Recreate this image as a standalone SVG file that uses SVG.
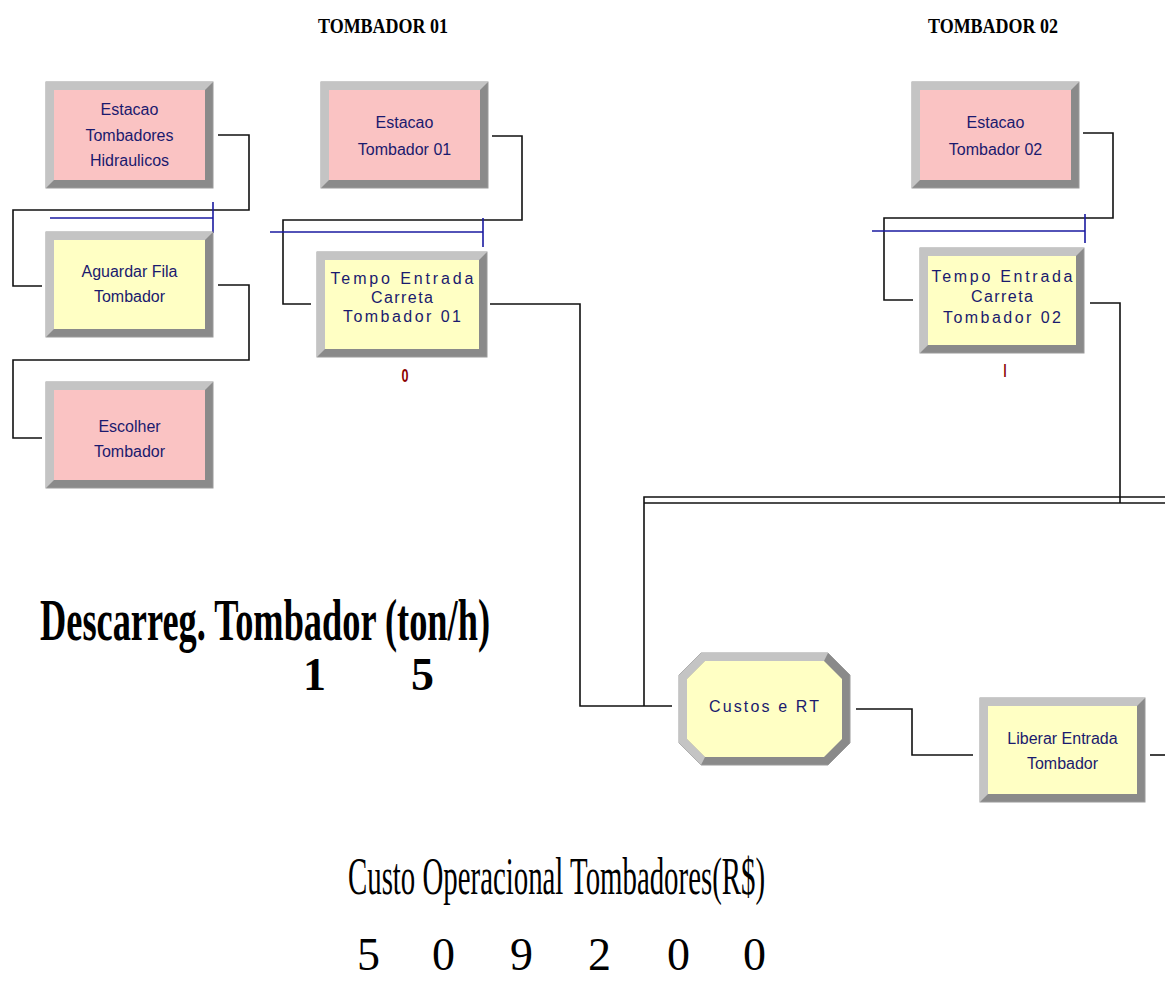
<svg xmlns="http://www.w3.org/2000/svg" width="1165" height="994" viewBox="0 0 1165 994">
  <style>
    .bg { fill: #ffffff; }
    .edge-dark { fill: #8a8a8a; stroke: #9a9a9a; stroke-width: 1; }
    .edge-light { fill: #c4c4c4; }
    .fill-pink { fill: #fac3c3; }
    .fill-yellow { fill: #ffffc4; }
    .lbl { font-family: "Liberation Sans", Arial, sans-serif; font-size: 16px; fill: #1a1a6e; text-anchor: middle; }
    .lbl-wide { font-family: "Liberation Sans", Arial, sans-serif; font-size: 16px; fill: #1a1a6e; text-anchor: middle; }
    .conn { fill: none; stroke: #111111; stroke-width: 1.6; }
    .queue { fill: none; stroke: #1a1aa0; stroke-width: 1.6; }
    .count { font-family: "Liberation Sans", Arial, sans-serif; font-size: 18px; font-weight: bold; fill: #8b0000; text-anchor: middle; }
    .head { font-family: "Liberation Serif", "Times New Roman", serif; font-weight: bold; font-size: 22px; fill: #000; }
    .big-bold { font-family: "Liberation Serif", "Times New Roman", serif; font-weight: bold; fill: #000; }
    .big { font-family: "Liberation Serif", "Times New Roman", serif; fill: #000; }
  </style>

  <rect class="bg" x="0" y="0" width="1165" height="994"/>

  <!-- headings -->
  <text class="head" x="318" y="33" textLength="130" lengthAdjust="spacingAndGlyphs">TOMBADOR 01</text>
  <text class="head" x="928" y="33" textLength="130" lengthAdjust="spacingAndGlyphs">TOMBADOR 02</text>

  <!-- connectors -->
  <g id="connectors">
    <polyline class="conn" points="218,135 249,135 249,210 13,210 13,286 42,286"/>
    <polyline class="conn" points="218,285 249,285 249,360 13,360 13,438 42,438"/>
    <polyline class="conn" points="492,136 522,136 522,220 283,220 283,304 311,304"/>
    <polyline class="conn" points="490,304 580,304 580,706 672,706"/>
    <polyline class="conn" points="1083,133 1113,133 1113,218 884,218 884,300 913,300"/>
    <polyline class="conn" points="1090,303 1120,303 1120,503"/>
    <polyline class="conn" points="644,706 644,497 1165,497"/>
    <line class="conn" x1="644" y1="503" x2="1165" y2="503"/>
    <polyline class="conn" points="856,709 912,709 912,755 973,755"/>
    <line class="conn" x1="1150" y1="755" x2="1165" y2="755"/>
  </g>

  <!-- queue markers -->
  <g id="queues">
    <line class="queue" x1="50" y1="218" x2="213" y2="218"/>
    <line class="queue" x1="213" y1="202" x2="213" y2="233"/>
    <line class="queue" x1="270" y1="232" x2="483" y2="232"/>
    <line class="queue" x1="483" y1="218" x2="483" y2="247"/>
    <line class="queue" x1="872" y1="231" x2="1085" y2="231"/>
    <line class="queue" x1="1085" y1="214" x2="1085" y2="243"/>
  </g>

  <!-- Estacao Tombadores Hidraulicos -->
  <g id="estacao-tombadores">
    <rect class="edge-dark" x="46" y="82" width="167" height="106"/>
    <polygon class="edge-light" points="46,82 213,82 205,90 54,90 54,180 46,188"/>
    <rect class="fill-pink" x="54" y="90" width="151" height="90"/>
    <text class="lbl" x="129.5" y="115">Estacao</text>
    <text class="lbl" x="129.5" y="141">Tombadores</text>
    <text class="lbl" x="129.5" y="166">Hidraulicos</text>
  </g>

  <!-- Aguardar Fila Tombador -->
  <g id="aguardar-fila">
    <rect class="edge-dark" x="46" y="232" width="167" height="105"/>
    <polygon class="edge-light" points="46,232 213,232 205,240 54,240 54,329 46,337"/>
    <rect class="fill-yellow" x="54" y="240" width="151" height="89"/>
    <text class="lbl" x="129.5" y="277">Aguardar Fila</text>
    <text class="lbl" x="129.5" y="302">Tombador</text>
  </g>

  <!-- Escolher Tombador -->
  <g id="escolher-tombador">
    <rect class="edge-dark" x="46" y="382" width="167" height="106"/>
    <polygon class="edge-light" points="46,382 213,382 205,390 54,390 54,480 46,488"/>
    <rect class="fill-pink" x="54" y="390" width="151" height="90"/>
    <text class="lbl" x="129.5" y="432">Escolher</text>
    <text class="lbl" x="129.5" y="457">Tombador</text>
  </g>

  <!-- Estacao Tombador 01 -->
  <g id="estacao-01">
    <rect class="edge-dark" x="321" y="82" width="167" height="106"/>
    <polygon class="edge-light" points="321,82 488,82 480,90 329,90 329,180 321,188"/>
    <rect class="fill-pink" x="329" y="90" width="151" height="90"/>
    <text class="lbl" x="404.5" y="128">Estacao</text>
    <text class="lbl" x="404.5" y="155">Tombador 01</text>
  </g>

  <!-- Tempo Entrada Carreta Tombador 01 -->
  <g id="tempo-01">
    <rect class="edge-dark" x="317" y="252" width="170" height="105"/>
    <polygon class="edge-light" points="317,252 487,252 479,260 325,260 325,349 317,357"/>
    <rect class="fill-yellow" x="325" y="260" width="154" height="89"/>
    <text class="lbl-wide" x="402" y="284" textLength="143" lengthAdjust="spacing">Tempo Entrada</text>
    <text class="lbl-wide" x="402" y="303" textLength="62" lengthAdjust="spacing">Carreta</text>
    <text class="lbl-wide" x="402" y="322" textLength="118" lengthAdjust="spacing">Tombador 01</text>
    <text class="count" x="405" y="382" textLength="7" lengthAdjust="spacingAndGlyphs">0</text>
  </g>

  <!-- Estacao Tombador 02 -->
  <g id="estacao-02">
    <rect class="edge-dark" x="912" y="82" width="167" height="106"/>
    <polygon class="edge-light" points="912,82 1079,82 1071,90 920,90 920,180 912,188"/>
    <rect class="fill-pink" x="920" y="90" width="151" height="90"/>
    <text class="lbl" x="995.5" y="128">Estacao</text>
    <text class="lbl" x="995.5" y="155">Tombador 02</text>
  </g>

  <!-- Tempo Entrada Carreta Tombador 02 -->
  <g id="tempo-02">
    <rect class="edge-dark" x="920" y="248" width="164" height="105"/>
    <polygon class="edge-light" points="920,248 1084,248 1076,256 928,256 928,345 920,353"/>
    <rect class="fill-yellow" x="928" y="256" width="148" height="89"/>
    <text class="lbl-wide" x="1002" y="282" textLength="141" lengthAdjust="spacing">Tempo Entrada</text>
    <text class="lbl-wide" x="1002" y="302" textLength="62" lengthAdjust="spacing">Carreta</text>
    <text class="lbl-wide" x="1002" y="323" textLength="118" lengthAdjust="spacing">Tombador 02</text>
    <text class="count" x="1005" y="377" textLength="3" lengthAdjust="spacingAndGlyphs">I</text>
  </g>

  <!-- Custos e RT -->
  <g id="custos-rt">
    <polygon class="edge-dark" points="701,653 828,653 850,675 850,743 828,765 701,765 679,743 679,675"/>
    <polygon class="edge-light" points="701,765 679,743 679,675 701,653 828,653 824,661 705,661 687,679 687,739 705,757"/>
    <polygon class="fill-yellow" points="705,661 824,661 842,679 842,739 824,757 705,757 687,739 687,679"/>
    <text class="lbl-wide" x="764" y="712" textLength="110" lengthAdjust="spacing">Custos e RT</text>
  </g>

  <!-- Liberar Entrada Tombador -->
  <g id="liberar-entrada">
    <rect class="edge-dark" x="980" y="698" width="165" height="104"/>
    <polygon class="edge-light" points="980,698 1145,698 1137,706 988,706 988,794 980,802"/>
    <rect class="fill-yellow" x="988" y="706" width="149" height="88"/>
    <text class="lbl" x="1062.5" y="744">Liberar Entrada</text>
    <text class="lbl" x="1062.5" y="769">Tombador</text>
  </g>

  <!-- indicators -->
  <g id="descarga">
    <text class="big-bold" x="40" y="640" font-size="60" textLength="450" lengthAdjust="spacingAndGlyphs">Descarreg. Tombador (ton/h)</text>
    <text class="big-bold" x="303" y="690" font-size="46">1</text>
    <text class="big-bold" x="411" y="690" font-size="46">5</text>
  </g>

  <g id="custo-operacional">
    <text class="big" x="348" y="894" font-size="52" textLength="417" lengthAdjust="spacingAndGlyphs">Custo Operacional Tombadores(R$)</text>
    <text class="big" x="357" y="970" font-size="46">5</text>
    <text class="big" x="432" y="970" font-size="46">0</text>
    <text class="big" x="510" y="970" font-size="46">9</text>
    <text class="big" x="588" y="970" font-size="46">2</text>
    <text class="big" x="667" y="970" font-size="46">0</text>
    <text class="big" x="743" y="970" font-size="46">0</text>
  </g>
</svg>
